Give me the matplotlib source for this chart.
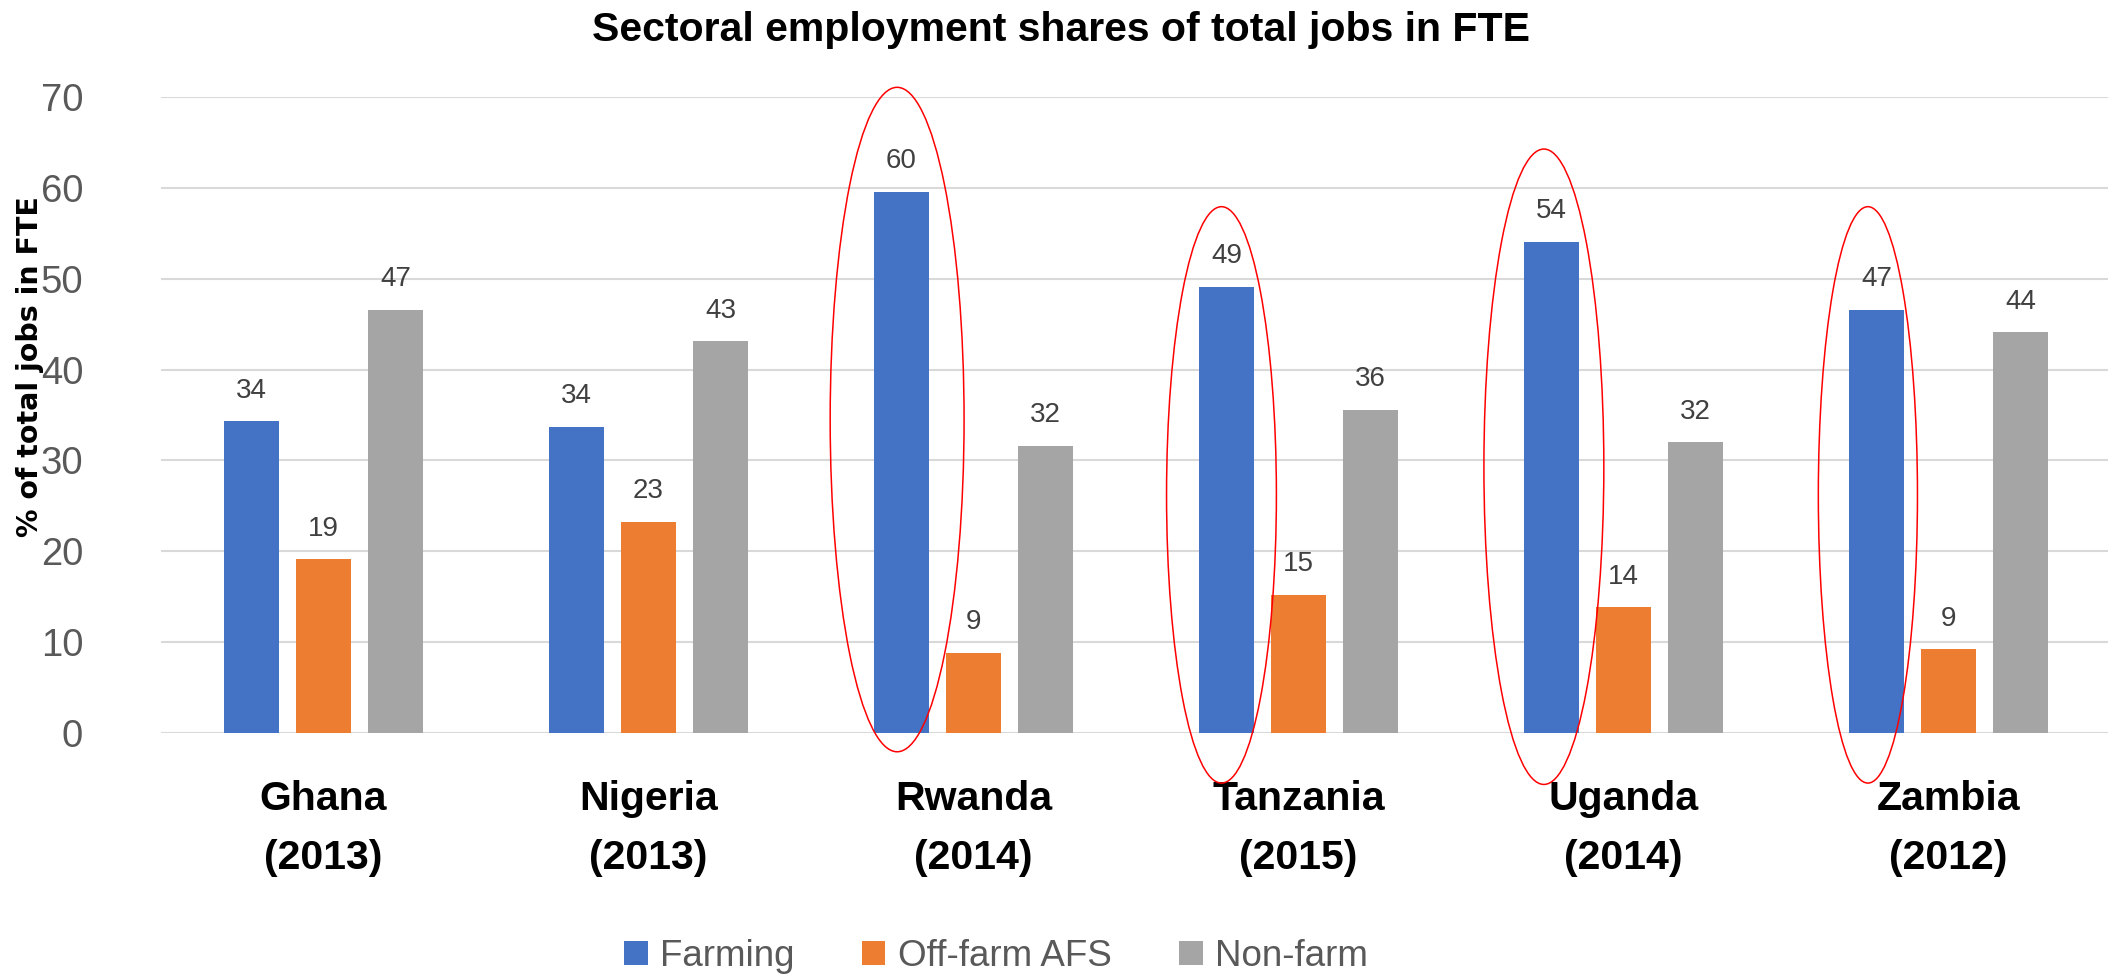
import matplotlib
matplotlib.use("Agg")
import matplotlib.pyplot as plt
import numpy as np
from matplotlib.patches import Ellipse, Patch

# ---------------- data ----------------
countries = ["Ghana\n(2013)", "Nigeria\n(2013)", "Rwanda\n(2014)",
             "Tanzania\n(2015)", "Uganda\n(2014)", "Zambia\n(2012)"]
series_names = ["Farming", "Off-farm AFS", "Non-farm"]
farming = [34.3, 33.7, 59.6, 49.1, 54.1, 46.6]
off_farm_afs = [19.1, 23.2, 8.8, 15.2, 13.8, 9.2]
non_farm = [46.6, 43.1, 31.6, 35.6, 32.0, 44.1]
y_ticks = [0, 10, 20, 30, 40, 50, 60, 70]
title = "Sectoral employment shares of total jobs in FTE"
y_label = "% of total jobs in FTE"

# highlighted groups (red ellipses around the Farming bar)
highlight_groups = [2, 3, 4, 5]
ell_dx = [-0.235, -0.237, -0.245, -0.248]
ell_cy = [34.5, 26.2, 29.3, 26.2]
ell_w = [0.412, 0.338, 0.369, 0.305]
ell_h = [73.2, 63.5, 70.0, 63.5]

colors = ["#4472C4", "#ED7D31", "#A5A5A5"]

# ---------------- figure ----------------
W, H = 2108, 974
fig = plt.figure(figsize=(W / 100, H / 100), dpi=100)
fig.patch.set_facecolor("white")

ax_left, ax_right = 161 / W, 2111 / W
ax_bottom, ax_top = 1 - 732.7 / H, 1 - 97.3 / H
ax = fig.add_axes([ax_left, ax_bottom, ax_right - ax_left, ax_top - ax_bottom])

FONT = ["Liberation Sans", "DejaVu Sans"]

x = np.arange(len(countries))
bw = 0.172
step = 0.2214
series = [farming, off_farm_afs, non_farm]
for i, (vals, c, name) in enumerate(zip(series, colors, series_names)):
    pos = x + (i - 1) * step
    ax.bar(pos, vals, width=bw, color=c, zorder=3, label=name)
    for px, v in zip(pos, vals):
        ax.annotate(f"{v:.0f}", (px, v), xytext=(0, 17), textcoords="offset points",
                    ha="center", va="baseline", fontsize=20, color="#404040",
                    family=FONT)

ax.set_xlim(-0.5, 5.5)
ax.set_ylim(0, 70)
ax.set_yticks(y_ticks)
ax.set_yticklabels([str(t) for t in y_ticks], family=FONT, fontsize=27.5, color="#595959")
ax.set_xticks(x)
ax.set_xticklabels(countries, family=FONT, fontsize=29.5, fontweight="bold",
                   color="black", linespacing=1.7)
ax.tick_params(axis="y", length=0, pad=56)
ax.tick_params(axis="x", length=0, pad=34)
ax.grid(axis="y", color="#D9D9D9", linewidth=1.5, zorder=0)
for s in ax.spines.values():
    s.set_visible(False)

# red ellipses
for g, dx, cy, w, h in zip(highlight_groups, ell_dx, ell_cy, ell_w, ell_h):
    e = Ellipse((x[g] + dx, cy), w, h, fill=False, edgecolor="red",
                linewidth=1.1, zorder=10, clip_on=False)
    ax.add_patch(e)

# title and axis label
fig.text(1061 / W, 1 - 41 / H, title, ha="center", va="baseline",
         fontsize=29.5, fontweight="bold", family=FONT, color="black")
fig.text(30 / W, 1 - 367 / H, y_label, rotation=90, ha="center", va="center",
         fontsize=20.5, fontweight="bold", family=["DejaVu Sans"], color="black")

# legend
handles = [Patch(facecolor=c, edgecolor="none") for c in colors]
leg = fig.legend(handles, series_names, loc="center", bbox_to_anchor=(996 / W, 1 - 956 / H),
                 ncol=3, frameon=False, handlelength=0.63, handleheight=0.63,
                 handletextpad=0.33, columnspacing=1.85,
                 prop={"family": FONT, "size": 26.5})
for t in leg.get_texts():
    t.set_color("#595959")

fig.savefig("out.png", dpi=100, facecolor="white")
